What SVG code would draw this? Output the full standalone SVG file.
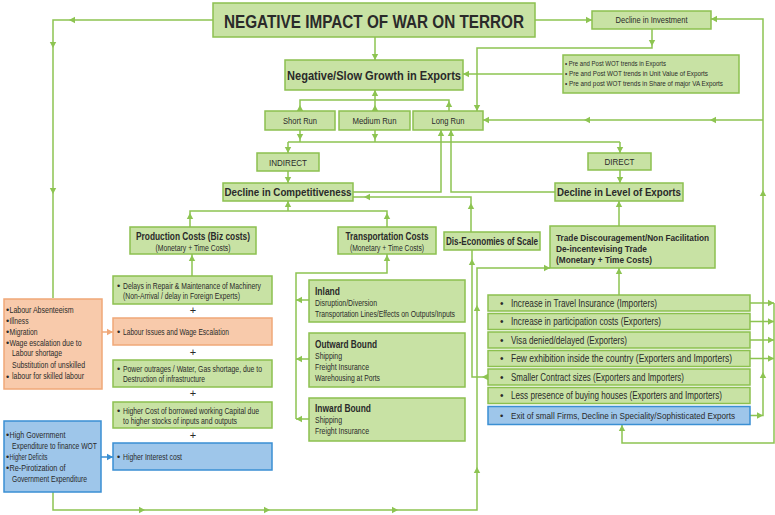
<svg xmlns="http://www.w3.org/2000/svg" xmlns:xlink="http://www.w3.org/1999/xlink" width="775" height="515" viewBox="0 0 775 515">
<defs>
<style>
.g{fill:#c8e2a4;stroke:#8cc04f;stroke-width:1.5}
.o{fill:#f8caab;stroke:#f0a878;stroke-width:1.5}
.b{fill:#9ec6ea;stroke:#3a8fd3;stroke-width:1.5}
text{font-family:"Liberation Sans",Arial,sans-serif;fill:#2a2a2a}
.bd{font-weight:bold}
.m{text-anchor:middle}
.c{fill:none;stroke:#8dc451;stroke-width:1.5}
.a{fill:#8dc451}
</style>
<path id="ar" d="M3,0 L-3,-3.2 L-3,3.2Z"/>
</defs>
<rect width="775" height="515" fill="#ffffff"/>

<g id="connectors">
<path class="c" d="M213,20 H53 V298"/>
<path class="c" d="M535,20 H592"/>
<path class="c" d="M375,37 V60"/>
<path class="c" d="M652,29 V48 H477 V111"/>
<path class="c" d="M563,74 H463"/>
<path class="c" d="M300,111 V100 H449 V111 M375,111 V90"/>
<path class="c" d="M750,415.5 H763 V19 H711 M763,120 H483"/>
<path class="c" d="M300,130 V142 M375,130 V142 M288,142 H620 M288,142 V153 M620,142 V153"/>
<path class="c" d="M288,171 V183 M620,170 V183"/>
<path class="c" d="M353,192 H441 V130 M555,192 H451 V130"/>
<path class="c" d="M471,232 V197 H353"/>
<path class="c" d="M288,201 V211 M190,227 V211 H387 V227"/>
<path class="c" d="M192,276 V254"/>
<path class="c" d="M387,254 V273 H296 V419 M309,300 H296 M309,359 H296 M309,419 H296"/>
<path class="c" d="M488,377 H472 V250"/>
<path class="c" d="M53,492 V510 H477 V268 H550"/>
<path class="c" d="M619,295 V268 M619,226 V201"/>
<path class="c" d="M750,303 H774 M750,321.5 H774 M750,340 H774 M750,358.5 H774 M774,303 V443 H622 V424"/>
<path fill="none" stroke="#f0a878" stroke-width="1.5" d="M102,332 H113"/>
<path fill="none" stroke="#3a8fd3" stroke-width="1.5" d="M101,457 H113"/>
<g class="a">
<use xlink:href="#ar" transform="translate(72,20) rotate(180)"/>
<use xlink:href="#ar" transform="translate(53,45) rotate(90)"/>
<use xlink:href="#ar" transform="translate(53,191) rotate(90)"/>
<use xlink:href="#ar" transform="translate(589,20)"/>
<use xlink:href="#ar" transform="translate(375,57) rotate(90)"/>
<use xlink:href="#ar" transform="translate(652,43) rotate(90)"/>
<use xlink:href="#ar" transform="translate(477,108) rotate(90)"/>
<use xlink:href="#ar" transform="translate(466,74) rotate(180)"/>
<use xlink:href="#ar" transform="translate(300,108) rotate(-90)"/>
<use xlink:href="#ar" transform="translate(375,108) rotate(-90)"/>
<use xlink:href="#ar" transform="translate(375,93) rotate(-90)"/>
<use xlink:href="#ar" transform="translate(449,104) rotate(-90)"/>
<use xlink:href="#ar" transform="translate(760,415.5)"/>
<use xlink:href="#ar" transform="translate(763,375) rotate(-90)"/>
<use xlink:href="#ar" transform="translate(763,193) rotate(-90)"/>
<use xlink:href="#ar" transform="translate(714,19) rotate(180)"/>
<use xlink:href="#ar" transform="translate(713,120) rotate(180)"/>
<use xlink:href="#ar" transform="translate(587,120) rotate(180)"/>
<use xlink:href="#ar" transform="translate(486,120) rotate(180)"/>
<use xlink:href="#ar" transform="translate(300,137) rotate(90)"/>
<use xlink:href="#ar" transform="translate(375,137) rotate(90)"/>
<use xlink:href="#ar" transform="translate(288,150) rotate(90)"/>
<use xlink:href="#ar" transform="translate(620,150) rotate(90)"/>
<use xlink:href="#ar" transform="translate(288,180) rotate(90)"/>
<use xlink:href="#ar" transform="translate(620,180) rotate(90)"/>
<use xlink:href="#ar" transform="translate(441,133) rotate(-90)"/>
<use xlink:href="#ar" transform="translate(451,133) rotate(-90)"/>
<use xlink:href="#ar" transform="translate(471,206) rotate(-90)"/>
<use xlink:href="#ar" transform="translate(367,197) rotate(180)"/>
<use xlink:href="#ar" transform="translate(288,204) rotate(-90)"/>
<use xlink:href="#ar" transform="translate(190,216) rotate(-90)"/>
<use xlink:href="#ar" transform="translate(387,216) rotate(-90)"/>
<use xlink:href="#ar" transform="translate(192,258) rotate(-90)"/>
<use xlink:href="#ar" transform="translate(387,258) rotate(-90)"/>
<use xlink:href="#ar" transform="translate(299,300) rotate(180)"/>
<use xlink:href="#ar" transform="translate(299,359) rotate(180)"/>
<use xlink:href="#ar" transform="translate(299,419) rotate(180)"/>
<use xlink:href="#ar" transform="translate(472,262) rotate(-90)"/>
<use xlink:href="#ar" transform="translate(485,377) rotate(180)"/>
<use xlink:href="#ar" transform="translate(142,510)"/>
<use xlink:href="#ar" transform="translate(267,510)"/>
<use xlink:href="#ar" transform="translate(395,510)"/>
<use xlink:href="#ar" transform="translate(477,470) rotate(-90)"/>
<use xlink:href="#ar" transform="translate(477,308) rotate(-90)"/>
<use xlink:href="#ar" transform="translate(547,268)"/>
<use xlink:href="#ar" transform="translate(619,271) rotate(-90)"/>
<use xlink:href="#ar" transform="translate(619,204) rotate(-90)"/>
<use xlink:href="#ar" transform="translate(771,303)"/>
<use xlink:href="#ar" transform="translate(771,321.5)"/>
<use xlink:href="#ar" transform="translate(771,340)"/>
<use xlink:href="#ar" transform="translate(771,358.5)"/>
<use xlink:href="#ar" transform="translate(622,428) rotate(-90)"/>
</g>
<use xlink:href="#ar" fill="#f0a878" transform="translate(110,332)"/>
<use xlink:href="#ar" fill="#3a8fd3" transform="translate(110,457)"/>
</g>

<g id="title">
<rect class="g" x="213" y="3" width="322" height="34"/>
<text class="bd m" x="374" y="27.5" font-size="19" fill="#1a1a1a" textLength="300" lengthAdjust="spacingAndGlyphs">NEGATIVE IMPACT OF WAR ON TERROR</text>
</g>
<g id="decline-investment">
<rect class="g" x="592" y="11" width="119" height="18"/>
<text class="m" x="651.5" y="23" font-size="8.5" textLength="72" lengthAdjust="spacingAndGlyphs">Decline in Investment</text>
</g>
<g id="trends">
<rect class="g" x="563" y="55" width="176" height="38"/>
<text x="565" y="66" font-size="7" textLength="101" lengthAdjust="spacingAndGlyphs">• Pre and Post WOT trends in Exports</text>
<text x="565" y="76" font-size="7" textLength="143" lengthAdjust="spacingAndGlyphs">• Pre and Post WOT trends in Unit Value of Exports</text>
<text x="565" y="86" font-size="7" textLength="158" lengthAdjust="spacingAndGlyphs">• Pre and post WOT trends in Share of major VA Exports</text>
</g>
<g id="negative-growth">
<rect class="g" x="285" y="60" width="178" height="30"/>
<text class="bd m" x="374" y="79.5" font-size="12.5" textLength="174" lengthAdjust="spacingAndGlyphs">Negative/Slow Growth in Exports</text>
</g>
<g id="short-run">
<rect class="g" x="265" y="111" width="70" height="19"/>
<text class="m" x="300" y="124" font-size="9.5" textLength="34" lengthAdjust="spacingAndGlyphs">Short Run</text>
</g>
<g id="medium-run">
<rect class="g" x="339" y="111" width="71" height="19"/>
<text class="m" x="374.5" y="124" font-size="9.5" textLength="44" lengthAdjust="spacingAndGlyphs">Medium Run</text>
</g>
<g id="long-run">
<rect class="g" x="413" y="111" width="70" height="19"/>
<text class="m" x="448" y="124" font-size="9.5" textLength="33" lengthAdjust="spacingAndGlyphs">Long Run</text>
</g>
<g id="indirect">
<rect class="g" x="257" y="153" width="62" height="18"/>
<text class="m" x="288" y="165.5" font-size="9.5" textLength="38" lengthAdjust="spacingAndGlyphs">INDIRECT</text>
</g>
<g id="direct">
<rect class="g" x="588" y="153" width="63" height="17"/>
<text class="m" x="619.5" y="165" font-size="9.5" textLength="30" lengthAdjust="spacingAndGlyphs">DIRECT</text>
</g>
<g id="decline-competitiveness">
<rect class="g" x="223" y="183" width="130" height="18"/>
<text class="bd m" x="288" y="196" font-size="11.5" textLength="127" lengthAdjust="spacingAndGlyphs">Decline in Competitiveness</text>
</g>
<g id="decline-level">
<rect class="g" x="555" y="183" width="128" height="18"/>
<text class="bd m" x="619" y="196" font-size="11.5" textLength="124" lengthAdjust="spacingAndGlyphs">Decline in Level of Exports</text>
</g>
<g id="production-costs">
<rect class="g" x="130" y="227" width="126" height="27"/>
<text class="bd m" x="193" y="239.5" font-size="10.5" textLength="114" lengthAdjust="spacingAndGlyphs">Production Costs (Biz costs)</text>
<text class="m" x="193" y="250.5" font-size="8.5" textLength="75" lengthAdjust="spacingAndGlyphs">(Monetary + Time Costs)</text>
</g>
<g id="transportation-costs">
<rect class="g" x="338" y="227" width="98" height="27"/>
<text class="bd m" x="387" y="239.5" font-size="10.5" textLength="83" lengthAdjust="spacingAndGlyphs">Transportation Costs</text>
<text class="m" x="387" y="250.5" font-size="8.5" textLength="74" lengthAdjust="spacingAndGlyphs">(Monetary + Time Costs)</text>
</g>
<g id="dis-economies">
<rect class="g" x="444" y="232" width="96" height="18"/>
<text class="bd m" x="492" y="244.5" font-size="10" textLength="92" lengthAdjust="spacingAndGlyphs">Dis-Economies of Scale</text>
</g>
<g id="trade-discouragement">
<rect class="g" x="550" y="226" width="165" height="42"/>
<text class="bd" x="556" y="240.5" font-size="9.5" textLength="153" lengthAdjust="spacingAndGlyphs">Trade Discouragement/Non Facilitation</text>
<text class="bd" x="556" y="251.5" font-size="9.5" textLength="91" lengthAdjust="spacingAndGlyphs">De-incentevising Trade</text>
<text class="bd" x="556" y="262.5" font-size="9.5" textLength="96" lengthAdjust="spacingAndGlyphs">(Monetary + Time Costs)</text>
</g>

<g id="delays">
<rect class="g" x="113" y="276" width="159" height="28"/>
<text x="117" y="288.5" font-size="9">•</text>
<text x="123" y="288.5" font-size="9" textLength="138" lengthAdjust="spacingAndGlyphs">Delays in Repair &amp; Maintenance of Machinery</text>
<text x="123" y="299" font-size="9" textLength="117" lengthAdjust="spacingAndGlyphs">(Non-Arrival / delay in Foreign Experts)</text>
</g>
<text class="m" x="193" y="313.5" font-size="11" fill="#444">+</text>
<g id="labour-issues">
<rect class="o" x="113" y="318" width="159" height="27"/>
<text x="117" y="334.5" font-size="9">•</text>
<text x="123" y="334.5" font-size="9" textLength="106" lengthAdjust="spacingAndGlyphs">Labour Issues and Wage Escalation</text>
</g>
<text class="m" x="193" y="355.5" font-size="11" fill="#444">+</text>
<g id="power">
<rect class="g" x="113" y="360" width="159" height="27"/>
<text x="117" y="371.5" font-size="9">•</text>
<text x="123" y="371.5" font-size="9" textLength="139" lengthAdjust="spacingAndGlyphs">Power outrages / Water, Gas shortage, due to</text>
<text x="123" y="382" font-size="9" textLength="82" lengthAdjust="spacingAndGlyphs">Destruction of infrastructure</text>
</g>
<text class="m" x="193" y="397" font-size="11" fill="#444">+</text>
<g id="higher-cost">
<rect class="g" x="113" y="402" width="159" height="26"/>
<text x="117" y="413.5" font-size="9">•</text>
<text x="123" y="413.5" font-size="9" textLength="136" lengthAdjust="spacingAndGlyphs">Higher Cost of borrowed working Capital due</text>
<text x="123" y="424" font-size="9" textLength="114" lengthAdjust="spacingAndGlyphs">to higher stocks of inputs and outputs</text>
</g>
<text class="m" x="193" y="438.5" font-size="11" fill="#444">+</text>
<g id="higher-interest">
<rect class="b" x="113" y="443" width="159" height="27"/>
<text x="117" y="459.5" font-size="9">•</text>
<text x="123" y="459.5" font-size="9" textLength="59" lengthAdjust="spacingAndGlyphs">Higher Interest cost</text>
</g>

<g id="labour-absenteeism">
<rect class="o" x="4" y="299" width="98" height="90"/>
<text x="6" y="313" font-size="9">•</text>
<text x="9.5" y="313" font-size="9" textLength="64" lengthAdjust="spacingAndGlyphs">Labour Absenteeism</text>
<text x="6" y="324" font-size="9">•</text>
<text x="9.5" y="324" font-size="9" textLength="19" lengthAdjust="spacingAndGlyphs">Illness</text>
<text x="6" y="335" font-size="9">•</text>
<text x="9.5" y="335" font-size="9" textLength="28" lengthAdjust="spacingAndGlyphs">Migration</text>
<text x="6" y="345.5" font-size="9">•</text>
<text x="9.5" y="345.5" font-size="9" textLength="72" lengthAdjust="spacingAndGlyphs">Wage escalation due to</text>
<text x="12" y="356" font-size="9" textLength="50" lengthAdjust="spacingAndGlyphs">Labour shortage</text>
<text x="12" y="367.5" font-size="9" textLength="73" lengthAdjust="spacingAndGlyphs">Substitution of unskilled</text>
<text x="6" y="380" font-size="9">•</text>
<text x="12" y="379" font-size="9" textLength="72" lengthAdjust="spacingAndGlyphs">labour for skilled labour</text>
</g>
<g id="government-expenditure">
<rect class="b" x="4" y="421" width="97" height="71"/>
<text x="6" y="438" font-size="9">•</text>
<text x="9.5" y="438" font-size="9" textLength="56" lengthAdjust="spacingAndGlyphs">High Government</text>
<text x="12" y="449" font-size="9" textLength="85" lengthAdjust="spacingAndGlyphs">Expenditure to finance WOT</text>
<text x="6" y="459.5" font-size="9">•</text>
<text x="9.5" y="459.5" font-size="9" textLength="38" lengthAdjust="spacingAndGlyphs">Higher Deficits</text>
<text x="6" y="470.5" font-size="9">•</text>
<text x="9.5" y="470.5" font-size="9" textLength="56" lengthAdjust="spacingAndGlyphs">Re-Pirotization of</text>
<text x="12" y="481.5" font-size="9" textLength="75" lengthAdjust="spacingAndGlyphs">Government Expenditure</text>
</g>

<g id="inland">
<rect class="g" x="309" y="280" width="156" height="42"/>
<text class="bd" x="315" y="294.5" font-size="10" textLength="25" lengthAdjust="spacingAndGlyphs">Inland</text>
<text x="315" y="305.5" font-size="9" textLength="62" lengthAdjust="spacingAndGlyphs">Disruption/Diversion</text>
<text x="315" y="316.5" font-size="9" textLength="140" lengthAdjust="spacingAndGlyphs">Transportation Lines/Effects on Outputs/Inputs</text>
</g>
<g id="outward-bound">
<rect class="g" x="309" y="333" width="156" height="54"/>
<text class="bd" x="315" y="347.5" font-size="10" textLength="62" lengthAdjust="spacingAndGlyphs">Outward Bound</text>
<text x="315" y="358.5" font-size="9" textLength="27" lengthAdjust="spacingAndGlyphs">Shipping</text>
<text x="315" y="369.5" font-size="9" textLength="54" lengthAdjust="spacingAndGlyphs">Freight Insurance</text>
<text x="315" y="380.5" font-size="9" textLength="65" lengthAdjust="spacingAndGlyphs">Warehousing at Ports</text>
</g>
<g id="inward-bound">
<rect class="g" x="309" y="398" width="156" height="43"/>
<text class="bd" x="315" y="411.5" font-size="10" textLength="56" lengthAdjust="spacingAndGlyphs">Inward Bound</text>
<text x="315" y="422.5" font-size="9" textLength="27" lengthAdjust="spacingAndGlyphs">Shipping</text>
<text x="315" y="433.5" font-size="9" textLength="54" lengthAdjust="spacingAndGlyphs">Freight Insurance</text>
</g>

<g id="travel-insurance">
<rect class="g" x="488" y="295" width="262" height="16"/>
<text x="500" y="306.5" font-size="10">•</text>
<text x="511" y="306.5" font-size="10" textLength="146" lengthAdjust="spacingAndGlyphs">Increase in Travel Insurance (Importers)</text>
</g>
<g id="participation-costs">
<rect class="g" x="488" y="313.5" width="262" height="16"/>
<text x="500" y="325" font-size="10">•</text>
<text x="511" y="325" font-size="10" textLength="150" lengthAdjust="spacingAndGlyphs">Increase in participation costs (Exporters)</text>
</g>
<g id="visa">
<rect class="g" x="488" y="332" width="262" height="16"/>
<text x="500" y="343.5" font-size="10">•</text>
<text x="511" y="343.5" font-size="10" textLength="116" lengthAdjust="spacingAndGlyphs">Visa denied/delayed (Exporters)</text>
</g>
<g id="few-exhibition">
<rect class="g" x="488" y="350.5" width="262" height="16"/>
<text x="500" y="362" font-size="10">•</text>
<text x="511" y="362" font-size="10" textLength="221" lengthAdjust="spacingAndGlyphs">Few exhibition inside the country (Exporters and Importers)</text>
</g>
<g id="smaller-contract">
<rect class="g" x="488" y="369" width="262" height="16"/>
<text x="500" y="380.5" font-size="10">•</text>
<text x="511" y="380.5" font-size="10" textLength="173" lengthAdjust="spacingAndGlyphs">Smaller Contract sizes (Exporters and Importers)</text>
</g>
<g id="buying-houses">
<rect class="g" x="488" y="387.5" width="262" height="16"/>
<text x="500" y="399" font-size="10">•</text>
<text x="511" y="399" font-size="10" textLength="211" lengthAdjust="spacingAndGlyphs">Less presence of buying houses (Exporters and Importers)</text>
</g>
<g id="exit-small-firms">
<rect class="b" x="488" y="406.5" width="262" height="18"/>
<text x="500" y="418.5" font-size="9.5">•</text>
<text x="511" y="418.5" font-size="9.5" textLength="224" lengthAdjust="spacingAndGlyphs">Exit of small Firms, Decline in Speciality/Sophisticated Exports</text>
</g>
</svg>
